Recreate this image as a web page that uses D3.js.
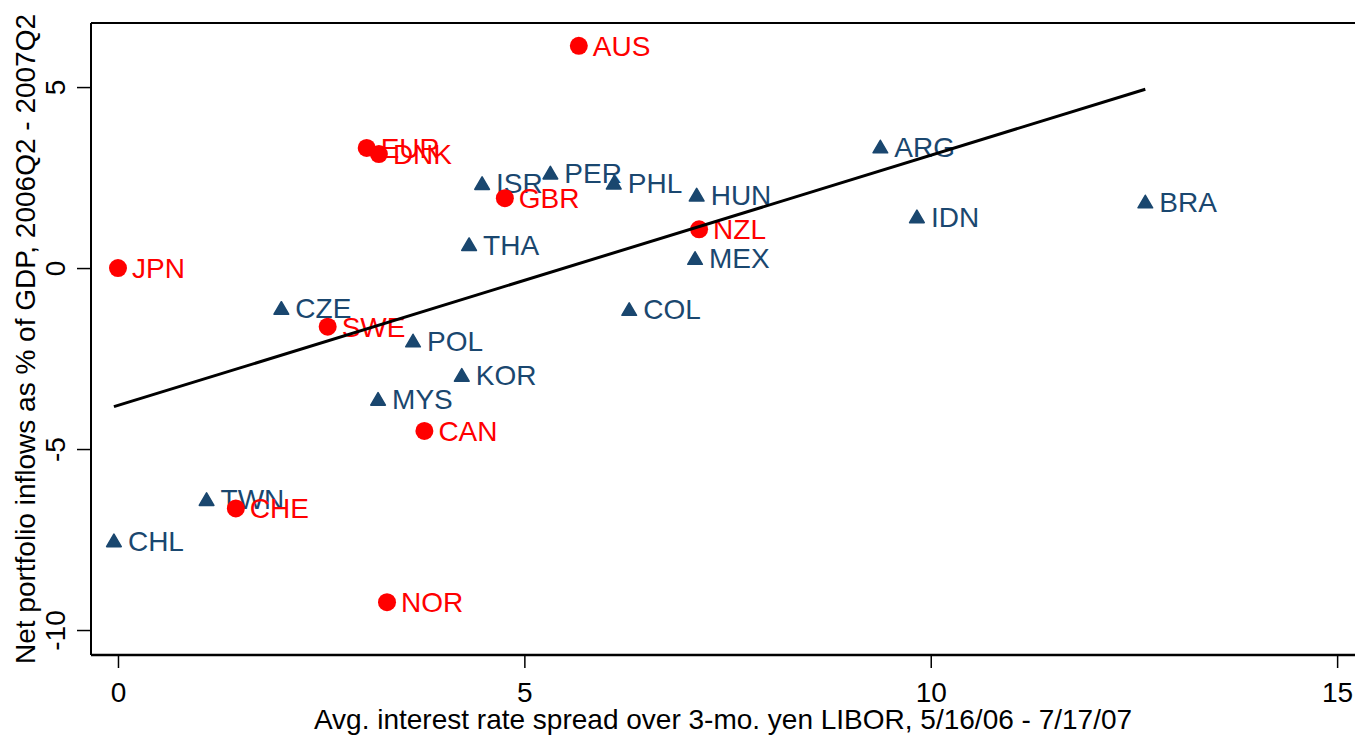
<!DOCTYPE html>
<html>
<head>
<meta charset="utf-8">
<script src="https://cdn.jsdelivr.net/npm/d3@7/dist/d3.min.js"></script>
<style>
  html, body { margin: 0; padding: 0; background: #fff; }
  svg { display: block; font-family: "Liberation Sans", Arial, sans-serif; }
</style>
</head>
<body>
<svg id="chart" width="1355" height="739"></svg>
<script>
// Emerging-market currencies (triangles)
const emergingCodes = ["ARG","BRA","IDN","HUN","MEX","PHL","PER","ISR","THA","COL","CZE","POL","KOR","MYS","TWN","CHL"];
const emergingSpread = [9.38, 12.64, 9.83, 7.12, 7.10, 6.10, 5.32, 4.48, 4.32, 6.29, 2.01, 3.63, 4.23, 3.20, 1.09, -0.05];
const emergingInflows = [3.35, 1.83, 1.42, 2.02, 0.27, 2.35, 2.63, 2.34, 0.65, -1.14, -1.11, -2.01, -2.96, -3.62, -6.39, -7.53];

// Advanced-economy currencies (circles)
const advancedCodes = ["AUS","EUR","DNK","GBR","JPN","NZL","SWE","CAN","CHE","NOR"];
const advancedSpread = [5.67, 3.06, 3.21, 4.76, 0.00, 7.15, 2.58, 3.77, 1.45, 3.31];
const advancedInflows = [6.14, 3.32, 3.15, 1.93, 0.00, 1.07, -1.62, -4.50, -6.64, -9.23];

// Fitted line endpoints
const fitSpread = [-0.05, 12.64];
const fitInflows = [-3.83, 4.94];

// Axis ticks and titles
const xTicks = [0, 5, 10, 15];
const yTicks = [-10, -5, 0, 5];
const xTitle = "Avg. interest rate spread over 3-mo. yen LIBOR, 5/16/06 - 7/17/07";
const yTitle = "Net portfolio inflows as % of GDP, 2006Q2 - 2007Q2";

const blue = "#1a476f";
const red = "#ff0000";
const fontSize = 28;
const tickText = d => String(d); // plain hyphen for negatives

const svg = d3.select("#chart");
const plot = { left: 91, right: 1355, top: 23, bottom: 655 };

const x = d3.scaleLinear().domain([-0.332, 15.22]).range([plot.left, plot.right]);
const y = d3.scaleLinear().domain([-10.69, 6.77]).range([plot.bottom, plot.top]);

// Plot frame: left, top and bottom rules
svg.append("line").attr("x1", plot.left).attr("x2", plot.right)
  .attr("y1", plot.top).attr("y2", plot.top)
  .attr("stroke", "#000").attr("stroke-width", 2);
svg.append("line").attr("x1", plot.left).attr("x2", plot.left)
  .attr("y1", plot.top).attr("y2", plot.bottom)
  .attr("stroke", "#000").attr("stroke-width", 2);

// X axis
const xAxis = svg.append("g")
  .attr("transform", `translate(0,${plot.bottom})`)
  .call(d3.axisBottom(x).tickValues(xTicks).tickSize(13).tickPadding(14).tickFormat(tickText));
xAxis.select(".domain").attr("stroke-width", 2.5).attr("d", `M${plot.left},0H${plot.right}`);
xAxis.selectAll(".tick line").attr("stroke-width", 1.5);
xAxis.selectAll(".tick text").attr("font-size", fontSize).attr("fill", "#000")
  .attr("font-family", "Liberation Sans, Arial, sans-serif");

// Y axis with rotated tick labels
const yAxis = svg.append("g")
  .attr("transform", `translate(${plot.left},0)`)
  .call(d3.axisLeft(y).tickValues(yTicks).tickSize(14).tickFormat(tickText));
yAxis.select(".domain").remove();
yAxis.selectAll(".tick line").attr("stroke-width", 1.5);
yAxis.selectAll(".tick text")
  .attr("transform", "rotate(-90)")
  .attr("x", 0).attr("y", -26).attr("dy", 0)
  .attr("text-anchor", "middle")
  .attr("font-size", fontSize).attr("fill", "#000")
  .attr("font-family", "Liberation Sans, Arial, sans-serif");

// Axis titles
svg.append("text")
  .attr("x", (plot.left + plot.right) / 2).attr("y", 729)
  .attr("text-anchor", "middle").attr("font-size", fontSize).attr("fill", "#000")
  .text(xTitle);
svg.append("text")
  .attr("transform", `translate(35,${(plot.top + plot.bottom) / 2}) rotate(-90)`)
  .attr("text-anchor", "middle").attr("font-size", fontSize).attr("fill", "#000")
  .text(yTitle);

// Emerging markets: triangles with labels
const emerging = emergingCodes.map((c, i) => ({ code: c, sx: emergingSpread[i], sy: emergingInflows[i] }));
const tri = "M0,-6.5L7.3,6L-7.3,6Z";
const eg = svg.append("g");
eg.selectAll("path").data(emerging).join("path")
  .attr("d", tri)
  .attr("transform", d => `translate(${x(d.sx)},${y(d.sy)})`)
  .attr("fill", blue).attr("stroke", blue).attr("stroke-width", 1.6).attr("stroke-linejoin", "round");
eg.selectAll("text").data(emerging).join("text")
  .attr("x", d => x(d.sx) + 14).attr("y", d => y(d.sy) + 10)
  .attr("font-size", fontSize).attr("fill", blue)
  .text(d => d.code);

// Advanced economies: circles with labels
const advanced = advancedCodes.map((c, i) => ({ code: c, sx: advancedSpread[i], sy: advancedInflows[i] }));
const ag = svg.append("g");
advanced.forEach(d => {
  ag.append("circle").attr("cx", x(d.sx)).attr("cy", y(d.sy)).attr("r", 9).attr("fill", red);
  ag.append("text").attr("x", x(d.sx) + 14).attr("y", y(d.sy) + 10)
    .attr("font-size", fontSize).attr("fill", red).text(d.code);
});

// Fitted line
const fit = fitSpread.map((v, i) => [v, fitInflows[i]]);
svg.append("path")
  .attr("d", d3.line().x(d => x(d[0])).y(d => y(d[1]))(fit))
  .attr("fill", "none").attr("stroke", "#000").attr("stroke-width", 3);
</script>
</body>
</html>
